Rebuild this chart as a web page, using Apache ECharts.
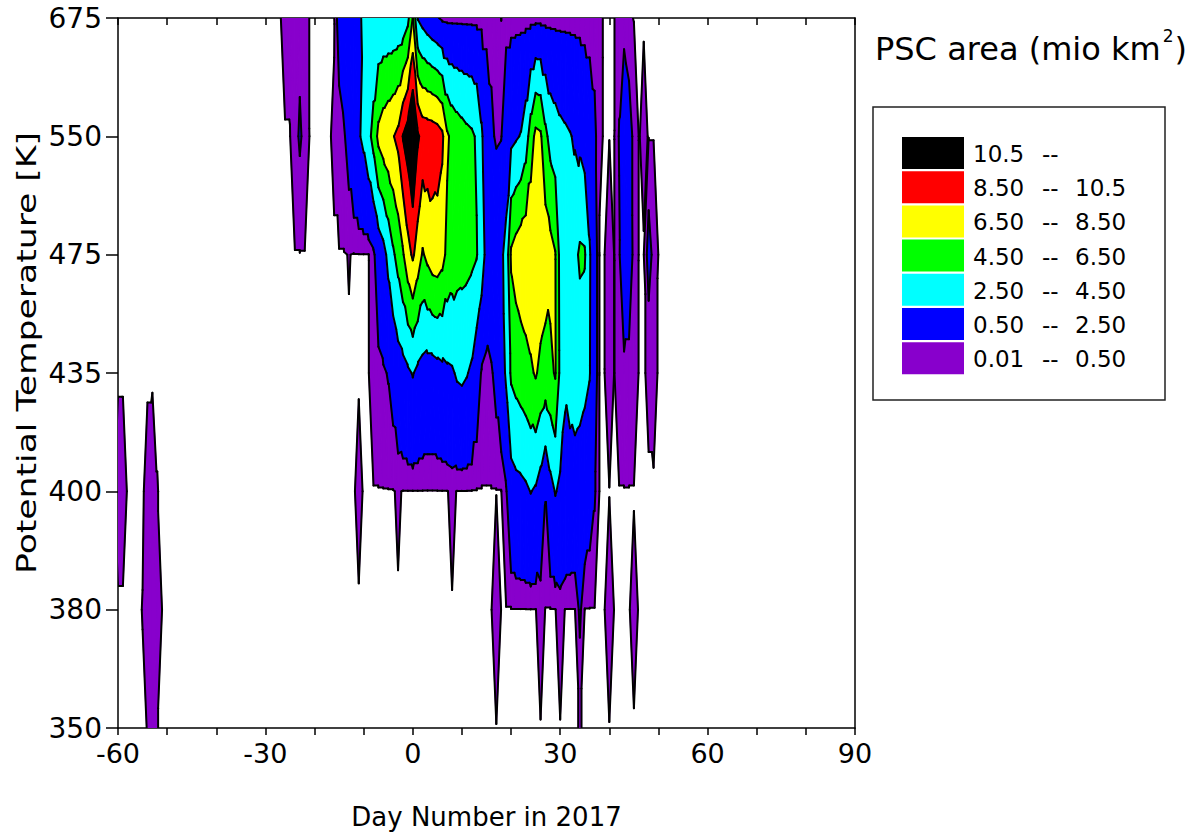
<!DOCTYPE html>
<html><head><meta charset="utf-8">
<script src="https://cdn.jsdelivr.net/npm/echarts@6/dist/echarts.min.js"></script>
<style>html,body{margin:0;padding:0;background:#fff}#c{width:1202px;height:834px}</style>
</head><body><div id="c"></div><script>
// ---------------- data ----------------
const DAY_MIN = -62, DAY_MAX = 50;
const LEVEL_LABELS = ['350', '380', '400', '435', '475', '550', '675'];
const X_TICK_LABELS = [-60, -30, 0, 30, 60, 90];
const THRESHOLDS = [0.01, 0.5, 2.5, 4.5, 6.5, 8.5, 10.5];
const BAND_COLORS = ['#8800cc', '#0000ff', '#00ffff', '#00ff00', '#ffff00', '#ff0000', '#000000'];
const LEGEND_LOW = ['10.5', '8.50', '6.50', '4.50', '2.50', '0.50', '0.01'];
const LEGEND_HIGH = ['', '10.5', '8.50', '6.50', '4.50', '2.50', '0.50'];

// PSC area (mio km2) per level; each entry = [first day, consecutive daily values]; missing days = 0
const theta675 = [
  [-26, [0.07, 0.1, 0.3, 0.3, 0.15]],
  [-15, [0.9, 1.4, 1.8, 2.1, 2.4, 2.6, 2.7, 2.8, 2.9, 3.0, 3.0, 3.0, 3.1, 3.2, 4.0,
         6.6, 2.4, 1.8, 1.3, 0.9, 0.6, 0.3, 0.25, 0.25, 0.25, 0.25, 0.25, 0.25, 0.25, 0.25, 0.25, 0.22, 0.2]],
  [19, [0.2, 0.2, 0.2, 0.2, 0.2, 0.2, 0.2, 0.2, 0.2, 0.2, 0.2, 0.2, 0.2, 0.2, 0.2, 0.2, 0.2, 0.2, 0.18, 0.03]],
  [42, [0.2, 0.25, 0.05]]
];
const theta550 = [
  [-24, [0.25, 0.6, 0.3]],
  [-16, [0.03, 0.2, 0.4, 0.9, 1.6, 2.3, 2.9, 3.9, 5.2, 7.0, 7.6, 8.0, 8.4, 9.0, 10.6, 11.5,
         13.0, 10.8, 9.8, 9.7, 9.6, 9.4, 8.9, 6.8, 6.0, 5.6, 5.3, 5.0, 4.8, 4.3, 2.8, 1.2, 0.7, 0.35, 0.45,
         1.4, 2.0, 2.3, 2.6, 3.5, 5.5, 7.0, 6.8, 5.0, 3.8, 3.4, 3.0, 2.8, 2.6, 2.3, 2.0, 1.5, 1.1, 0.7, 0.03]],
  [42, [0.55, 1.2, 0.9, 0.3]],
  [47, [0.05]]
];
const theta475 = [
  [-13, [0.015]],
  [-8, [0.3, 1.2, 1.8, 3.0, 4.2, 5.2, 6.3, 7.8,
        8.8, 7.6, 6.3, 7.0, 7.5, 7.6, 7.2, 6.0, 5.6, 5.3, 5.2, 5.1, 4.9, 4.6, 3.6, 1.8, 1.5, 1.8, 2.2, 3.0,
        6.8, 7.4, 7.8, 8.0, 8.1, 8.2, 8.0, 7.6, 7.2, 6.6, 3.8, 3.5, 3.6, 4.0, 4.8, 4.7, 2.7, 1.0]],
  [40, [0.3]],
  [42, [0.4, 1.4, 1.0, 0.3]],
  [48, [0.8, 0.3]]
];
const theta435 = [
  [-8, [0.2, 0.3, 0.4, 0.55, 0.9, 1.5, 1.8, 2.2,
        2.6, 2.1, 1.8, 1.6, 1.6, 1.8, 2.0, 2.2, 2.3, 2.7, 2.8, 2.6, 2.2, 1.2, 0.4, 0.2, 0.4, 0.8, 1.5, 2.8,
        4.8, 5.2, 5.5, 5.8, 6.2, 6.7, 6.0, 5.7, 6.0, 6.7, 4.0, 2.8, 3.2, 3.5, 3.3, 3.0, 2.6, 1.0]],
  [40, [0.3]],
  [42, [0.2, 0.3, 0.3, 0.2]],
  [48, [0.03, 0.05]]
];
const theta400 = [
  [-60, [0.05, 0.05]],
  [-54, [0.04, 0.06, 0.012]],
  [-11, [0.045]],
  [-3, [0.03]],
  [8, [0.06]],
  [19, [0.4, 1.6, 1.9, 2.0, 2.2, 2.55, 2.3, 1.6, 0.55, 1.8, 2.6, 2.2, 1.9, 1.7, 1.6, 1.5, 1.3, 1.0, 0.6]]
];
const theta380 = [
  [-55, [0.012, 0.3, 0.4, 0.3]],
  [17, [0.3]],
  [26, [0.14]],
  [30, [0.14]],
  [34, [0.65]],
  [40, [0.2]],
  [45, [0.06]]
];
const theta350 = [
  [-54, [0.012, 0.2, 0.012]],
  [34, [0.015]]
];

// ---------------- contouring (triangulated linear interpolation) ----------------
function expand(segs) {
  const arr = new Array(DAY_MAX - DAY_MIN + 1).fill(0);
  segs.forEach(([s, vals]) => vals.forEach((v, k) => { arr[s + k - DAY_MIN] = v; }));
  return arr;
}
const Z = [theta350, theta380, theta400, theta435, theta475, theta550, theta675].map(expand);
const polys = [], lines = [];
function clip(poly, f) {
  const out = [];
  for (let k = 0; k < poly.length; k++) {
    const p = poly[k], q = poly[(k + 1) % poly.length];
    const fp = f(p), fq = f(q);
    if (fp >= 0) out.push(p);
    if ((fp >= 0) !== (fq >= 0)) {
      const t = fp / (fp - fq);
      out.push({ x: p.x + t * (q.x - p.x), y: p.y + t * (q.y - p.y), v: p.v + t * (q.v - p.v) });
    }
  }
  return out;
}
function tri(a, b, c) {
  const vmax = Math.max(a.v, b.v, c.v), vmin = Math.min(a.v, b.v, c.v);
  if (vmax < THRESHOLDS[0]) return;
  for (let k = 0; k < THRESHOLDS.length; k++) {
    const lo = THRESHOLDS[k], hi = k < THRESHOLDS.length - 1 ? THRESHOLDS[k + 1] : Infinity;
    if (vmax < lo || vmin >= hi) continue;
    let p = clip([a, b, c], q => q.v - lo);
    if (hi < Infinity && p.length) p = clip(p, q => hi - q.v);
    if (p.length >= 3) polys.push({ band: k, pts: p.map(q => [q.x, q.y]) });
  }
  THRESHOLDS.forEach(t => {
    const pts = [];
    [[a, b], [b, c], [c, a]].forEach(([p, q]) => {
      if ((p.v >= t) !== (q.v >= t)) {
        const s = (t - p.v) / (q.v - p.v);
        pts.push([p.x + s * (q.x - p.x), p.y + s * (q.y - p.y)]);
      }
    });
    if (pts.length === 2) lines.push(pts);
  });
}
for (let j = 0; j < Z.length - 1; j++) {
  for (let i = 0; i < Z[0].length - 1; i++) {
    const A = { x: DAY_MIN + i, y: j, v: Z[j][i] }, B = { x: DAY_MIN + i + 1, y: j, v: Z[j][i + 1] };
    const C = { x: DAY_MIN + i + 1, y: j + 1, v: Z[j + 1][i + 1] }, D = { x: DAY_MIN + i, y: j + 1, v: Z[j + 1][i] };
    if (Math.abs(A.v - C.v) <= Math.abs(B.v - D.v)) { tri(A, B, C); tri(A, C, D); }
    else { tri(A, B, D); tri(B, C, D); }
  }
}
const polyData = polys.map((p, k) => {
  let cx = 0, cy = 0; p.pts.forEach(q => { cx += q[0]; cy += q[1]; });
  return [cx / p.pts.length, cy / p.pts.length, k];
});
const lineData = lines.map((l, k) => [(l[0][0] + l[1][0]) / 2, (l[0][1] + l[1][1]) / 2, k]);

// ---------------- chart ----------------
const chart = echarts.init(document.getElementById('c'), null, { renderer: 'svg', devicePixelRatio: 1 });
const FONT = 'DejaVu Sans';
const axisLineStyle = { color: '#000', width: 1.5 };
const legendGraphics = [];
legendGraphics.push({ type: 'rect', shape: { x: 873, y: 107, width: 292, height: 293 },
  style: { fill: '#fff', stroke: '#222', lineWidth: 1.5 } });
BAND_COLORS.slice().reverse().forEach((col, r) => {
  const y0 = 137 + r * 34.2;
  legendGraphics.push({ type: 'rect', shape: { x: 902, y: y0, width: 62, height: 32 }, style: { fill: col } });
  const ty = y0 + 17;
  legendGraphics.push({ type: 'text', x: 973, y: ty, style: { text: LEGEND_LOW[r], font: '23px "' + FONT + '"', fill: '#000', textVerticalAlign: 'middle' } });
  legendGraphics.push({ type: 'text', x: 1042, y: ty, style: { text: '--', font: '23px "' + FONT + '"', fill: '#000', textVerticalAlign: 'middle' } });
  if (LEGEND_HIGH[r]) legendGraphics.push({ type: 'text', x: 1075, y: ty, style: { text: LEGEND_HIGH[r], font: '23px "' + FONT + '"', fill: '#000', textVerticalAlign: 'middle' } });
});
legendGraphics.push({ type: 'text', x: 875, y: 25, style: {
  text: '{a|PSC area (mio km}{s|2}{a|)}', fill: '#000',
  rich: { a: { font: '32px "' + FONT + '"', lineHeight: 40, verticalAlign: 'bottom' },
          s: { font: '17px "' + FONT + '"', lineHeight: 40, verticalAlign: 'top', padding: [2, 1, 0, 2] } } } });
legendGraphics.push({ type: 'text', x: 27, y: 353, rotation: Math.PI / 2, scaleX: 1.33,
  style: { text: 'Potential Temperature [K]', font: '26px "' + FONT + '"', fill: '#000', textAlign: 'center', textVerticalAlign: 'middle' } });

chart.setOption({
  animation: false,
  backgroundColor: '#fff',
  grid: { left: 118, right: 347, top: 18, bottom: 106, containLabel: false, outerBoundsMode: 'none' },
  xAxis: [
    { type: 'value', min: -60, max: 90, interval: 10, position: 'bottom',
      axisLine: { show: true, onZero: false, lineStyle: axisLineStyle },
      axisTick: { show: true, length: 7, lineStyle: axisLineStyle },
      axisLabel: { formatter: v => (X_TICK_LABELS.indexOf(v) >= 0 ? String(v) : ''), fontFamily: FONT, fontSize: 27, color: '#000', margin: 12, showMinLabel: true, showMaxLabel: true },
      splitLine: { show: false },
      name: 'Day Number in 2017', nameLocation: 'middle', nameGap: 76,
      nameTextStyle: { fontFamily: FONT, fontSize: 26, color: '#000' } },
    { type: 'value', min: -60, max: 90, interval: 10, position: 'top',
      axisLine: { show: true, onZero: false, lineStyle: axisLineStyle },
      axisTick: { show: true, inside: true, length: 7, lineStyle: axisLineStyle },
      axisLabel: { show: false }, splitLine: { show: false } }
  ],
  yAxis: [
    { type: 'value', min: 0, max: 6, interval: 1, position: 'left',
      axisLine: { show: true, onZero: false, lineStyle: axisLineStyle },
      axisTick: { show: true, length: 12, lineStyle: axisLineStyle },
      axisLabel: { formatter: v => LEVEL_LABELS[Math.round(v)], fontFamily: FONT, fontSize: 28, color: '#000', margin: 16 },
      splitLine: { show: false } },
    { type: 'value', min: 0, max: 6, interval: 1, position: 'right',
      axisLine: { show: true, onZero: false, lineStyle: axisLineStyle },
      axisTick: { show: false }, axisLabel: { show: false }, splitLine: { show: false } }
  ],
  graphic: legendGraphics,
  series: [
    { type: 'custom', name: 'bands', xAxisIndex: 0, yAxisIndex: 0, clip: true, silent: true,
      data: polyData, encode: { x: 0, y: 1 },
      renderItem: (params, api) => {
        const p = polys[api.value(2)];
        const col = BAND_COLORS[p.band];
        return { type: 'polygon', shape: { points: p.pts.map(q => api.coord(q)) },
          style: { fill: col, stroke: col, lineWidth: 1.2, lineJoin: 'round' } };
      } },
    { type: 'custom', name: 'contours', xAxisIndex: 0, yAxisIndex: 0, clip: true, silent: true,
      data: lineData, encode: { x: 0, y: 1 },
      renderItem: (params, api) => {
        const l = lines[api.value(2)];
        const p1 = api.coord(l[0]), p2 = api.coord(l[1]);
        return { type: 'line', shape: { x1: p1[0], y1: p1[1], x2: p2[0], y2: p2[1] },
          style: { stroke: '#000', lineWidth: 2, lineCap: 'round' } };
      } }
  ]
});
</script></body></html>
